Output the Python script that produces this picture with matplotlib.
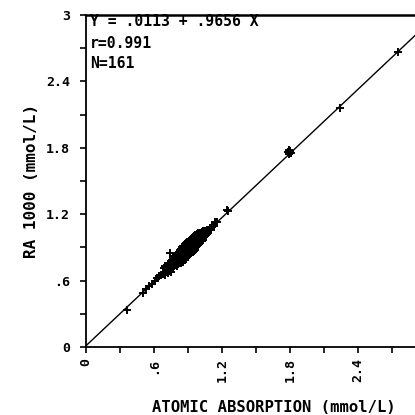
import matplotlib
matplotlib.use("Agg")
import matplotlib.pyplot as plt
import numpy as np

# ---- data ----
atomic_absorption = [
    0.36, 0.50, 0.53, 0.56, 0.58, 0.61, 0.63, 0.64, 0.66,
    0.68, 0.69, 0.70, 0.70, 0.71, 0.72, 0.72, 0.73, 0.73, 0.74,
    0.74, 0.75, 0.75, 0.76, 0.76, 0.77, 0.77, 0.78, 0.78, 0.79,
    0.79, 0.80, 0.80, 0.80, 0.81, 0.81, 0.82, 0.82, 0.82, 0.83,
    0.83, 0.84, 0.84, 0.84, 0.85, 0.85, 0.85, 0.86, 0.86, 0.86,
    0.87, 0.87, 0.87, 0.88, 0.88, 0.88, 0.89, 0.89, 0.89, 0.90,
    0.90, 0.90, 0.91, 0.91, 0.91, 0.92, 0.92, 0.92, 0.93, 0.93,
    0.93, 0.94, 0.94, 0.94, 0.95, 0.95, 0.95, 0.96, 0.96, 0.96,
    0.97, 0.97, 0.97, 0.98, 0.98, 0.98, 0.99, 0.99, 0.99, 1.00,
    1.00, 1.01, 1.01, 1.02, 1.02, 1.03, 1.03, 1.04, 1.04, 1.05,
    1.05, 1.06, 1.07, 1.07, 1.08, 1.09, 1.10, 1.11, 1.12, 1.13,
    0.86, 0.88, 0.90, 0.92, 0.94, 0.96, 0.98, 0.89, 0.91, 0.93,
    0.95, 0.97, 0.83, 0.85, 0.87, 0.99, 1.01, 0.84, 0.92, 0.95,
    0.78, 0.80, 0.88, 0.90, 0.93, 0.96, 1.00, 0.86, 0.91, 0.97,
    0.76, 0.81, 0.85, 0.89, 0.94, 0.98, 1.02, 1.06, 0.87, 0.92, 0.95,
    1.14, 1.16, 1.245, 1.25, 1.78, 1.79, 1.80, 1.81, 1.79, 2.24, 2.75,
]
ra_1000 = [
    0.33, 0.49, 0.52, 0.55, 0.57, 0.60, 0.62, 0.64, 0.65,
    0.66, 0.71, 0.65, 0.73, 0.70, 0.67, 0.75, 0.69, 0.76, 0.85,
    0.70, 0.68, 0.77, 0.71, 0.79, 0.72, 0.80, 0.73, 0.82, 0.74,
    0.83, 0.73, 0.80, 0.85, 0.75, 0.84, 0.76, 0.86, 0.79, 0.77,
    0.87, 0.76, 0.83, 0.89, 0.78, 0.85, 0.90, 0.77, 0.84, 0.91,
    0.79, 0.86, 0.93, 0.80, 0.88, 0.94, 0.81, 0.87, 0.95, 0.82,
    0.89, 0.95, 0.83, 0.91, 0.96, 0.84, 0.90, 0.97, 0.85, 0.93,
    0.98, 0.86, 0.92, 0.99, 0.87, 0.94, 1.00, 0.88, 0.95, 1.01,
    0.90, 0.96, 1.01, 0.91, 0.97, 1.02, 0.92, 0.98, 1.03, 0.93,
    1.01, 0.95, 1.03, 0.96, 1.04, 0.97, 1.05, 0.99, 1.04, 1.00,
    1.05, 1.01, 1.02, 1.06, 1.05, 1.07, 1.06, 1.08, 1.10, 1.09,
    0.87, 0.83, 0.92, 0.88, 0.95, 0.91, 0.99, 0.85, 0.86, 0.89,
    0.97, 0.93, 0.80, 0.81, 0.84, 0.95, 0.99, 0.81, 0.93, 0.90,
    0.77, 0.82, 0.91, 0.85, 0.88, 0.97, 0.96, 0.82, 0.94, 0.99,
    0.75, 0.79, 0.87, 0.90, 0.90, 0.95, 1.00, 1.04, 0.90, 0.87, 0.92,
    1.13, 1.13, 1.24, 1.23, 1.76, 1.74, 1.77, 1.75, 1.78, 2.16, 2.67,
]
intercept = 0.0113
slope = 0.9656
tick_values = [0, 0.6, 1.2, 1.8, 2.4, 3.0]
y_tick_labels = ["0", ".6", "1.2", "1.8", "2.4", "3"]
x_tick_labels = ["0", ".6", "1.2", "1.8", "2.4", ""]
minor_values = [0.3, 0.9, 1.5, 2.1, 2.7]

FONT = "DejaVu Sans Mono"
W = H = 415
fig = plt.figure(figsize=(W / 100, H / 100), dpi=100)
ax = fig.add_axes([86 / W, (H - 347) / H, 340 / W, 332 / H])

ax.plot(atomic_absorption, ra_1000, linestyle="none", marker="+",
        markersize=6, markeredgewidth=1.4, color="black")
xl = np.array([0.0, 3.0])
ax.plot(xl, intercept + slope * xl, color="black", linewidth=1.0)

ax.set_xlim(0, 3)
ax.set_ylim(0, 3)
ax.set_xticks(tick_values)
ax.set_xticklabels(x_tick_labels, rotation=90, fontfamily=FONT, fontweight="bold", fontsize=9.5)
ax.set_yticks(tick_values)
ax.set_yticklabels(y_tick_labels, fontfamily=FONT, fontweight="bold", fontsize=9.5)
ax.set_xticks(minor_values, minor=True)
ax.set_yticks(minor_values, minor=True)
ax.tick_params(which="both", direction="out", length=4.5, width=1.2, color="black")
ax.tick_params(axis="y", which="major", pad=7)
ax.tick_params(axis="x", which="major", pad=3.5)
for s in ["left", "bottom"]:
    ax.spines[s].set_linewidth(1.3)
ax.spines["top"].set_linewidth(1.8)
ax.spines["right"].set_linewidth(1.3)

def ftext(px, py, s, **kw):
    fig.text(px / W, 1 - py / H, s, fontfamily=FONT, fontweight="bold", **kw)

ftext(90, 22, "Y = .0113 + .9656 X", fontsize=10.6, va="center", ha="left")
ftext(90, 43, "r=0.991", fontsize=10.6, va="center", ha="left")
ftext(90, 64, "N=161", fontsize=10.6, va="center", ha="left")
ftext(274, 407, "ATOMIC ABSORPTION (mmol/L)", fontsize=11.2, va="center", ha="center")
ftext(31, 181, "RA 1000 (mmol/L)", fontsize=11.5, va="center", ha="center", rotation=90)

fig.savefig("out.png", dpi=100)
